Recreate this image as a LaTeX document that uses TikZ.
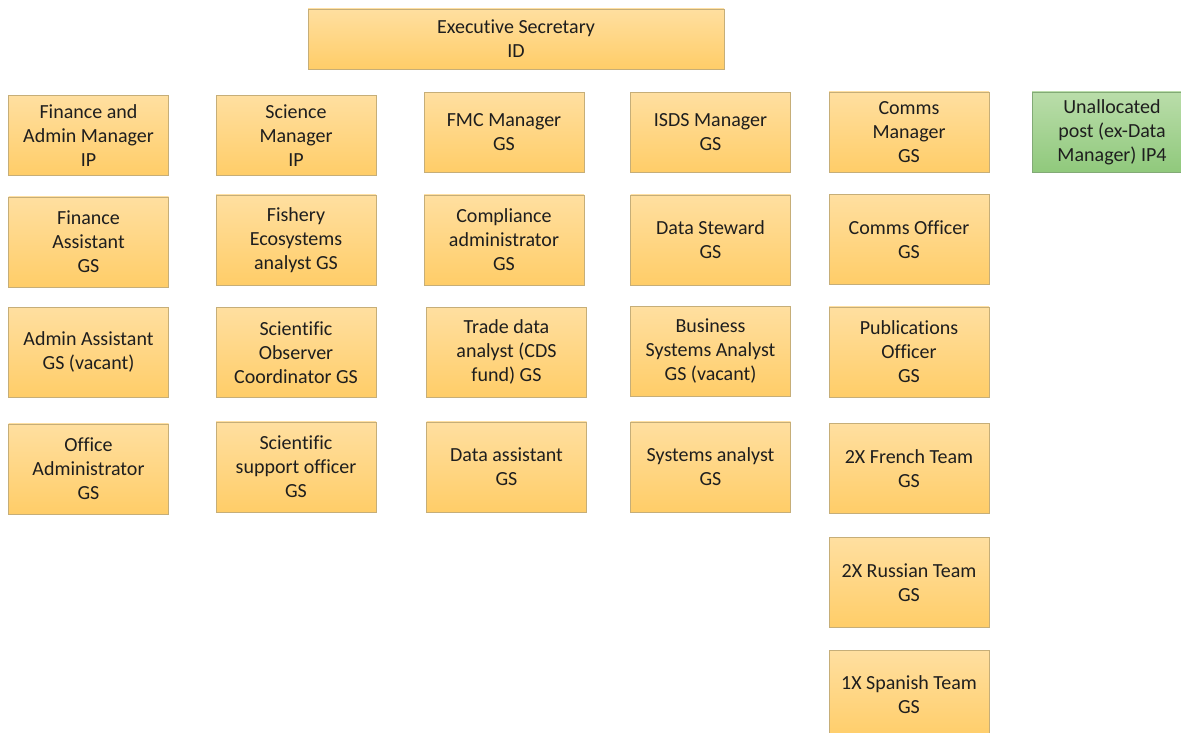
\documentclass[tikz,border=0pt]{standalone}
\usepackage{fontspec}
\setmainfont{Carlito}[Ligatures=NoCommon]
\usetikzlibrary{positioning}
\definecolor{postTop}{RGB}{255,223,160}
\definecolor{postBottom}{RGB}{255,205,104}
\definecolor{postEdge}{RGB}{198,174,120}
\definecolor{spareTop}{RGB}{186,221,170}
\definecolor{spareBottom}{RGB}{144,201,124}
\definecolor{spareEdge}{RGB}{130,170,118}
\definecolor{postText}{RGB}{30,30,30}
\begin{document}
\begin{tikzpicture}
      [x=1pt,y=1pt,
       postBox/.style={rectangle,draw=postEdge,top color=postTop,bottom color=postBottom,
         minimum width=160pt,minimum height=90pt,inner sep=0pt,align=center,
         text=postText,font=\fontsize{20}{24}\selectfont,node distance=22pt},
       headBox/.style={postBox,minimum height=80pt},
       spareBox/.style={headBox,draw=spareEdge,top color=spareTop,bottom color=spareBottom}]
      \useasboundingbox (0,0) rectangle (1181,-733);
      \node[postBox,minimum width=416pt,minimum height=60pt] (exec) at (516,-39) {Executive Secretary\\ID};
      % finance and admin
      \node[headBox] (finMgr) at (88.5,-135.5) {Finance and\\Admin Manager\\IP};
      \node[postBox] (finAsst) [below=21pt of finMgr] {Finance\\Assistant\\GS};
      \node[postBox] (adminAsst) [below=20pt of finAsst] {Admin Assistant\\GS (vacant)};
      \node[postBox] (officeAdmin) [below=26pt of adminAsst] {Office\\Administrator\\GS};
      % science
      \node[headBox] (sciMgr) at (296,-135.5) {Science\\Manager\\IP};
      \node[postBox] (fishEco) [below=19pt of sciMgr] {Fishery\\Ecosystems\\analyst GS};
      \node[postBox] (obsCoord) [below=of fishEco] {Scientific\\Observer\\Coordinator GS};
      \node[postBox] (sciSupport) [below=24pt of obsCoord] {Scientific\\support officer\\GS};
      % fmc
      \node[headBox] (fmcMgr) at (504,-132.5) {FMC Manager\\GS};
      \node[postBox] (compAdmin) [below=of fmcMgr] {Compliance\\administrator\\GS};
      \node[postBox] (tradeData) [below=of compAdmin,xshift=2.5pt] {Trade data\\analyst (CDS\\fund) GS};
      \node[postBox] (dataAsst) [below=24pt of tradeData] {Data assistant\\GS};
      % isds
      \node[headBox] (isdsMgr) at (710.5,-132.5) {ISDS Manager\\GS};
      \node[postBox] (dataSteward) [below=of isdsMgr] {Data Steward\\GS};
      \node[postBox] (bizAnalyst) [below=21pt of dataSteward] {Business\\Systems Analyst\\GS (vacant)};
      \node[postBox] (sysAnalyst) [below=25pt of bizAnalyst] {Systems analyst\\GS};
      % comms
      \node[headBox] (commsMgr) at (909,-132) {Comms\\Manager\\GS};
      \node[postBox] (commsOff) [below=of commsMgr] {Comms Officer\\GS};
      \node[postBox] (pubOff) [below=of commsOff] {Publications\\Officer\\GS};
      \node[postBox] (frTeam) [below=26pt of pubOff] {2X French Team\\GS};
      \node[postBox] (ruTeam) [below=24pt of frTeam] {2X Russian Team\\GS};
      \node[postBox] (esTeam) [below=22pt of ruTeam] {1X Spanish Team\\GS};
      % unallocated
      \node[spareBox] (spare) at (1112,-132) {Unallocated\\post (ex-Data\\Manager) IP4};
    \end{tikzpicture}
\end{document}
